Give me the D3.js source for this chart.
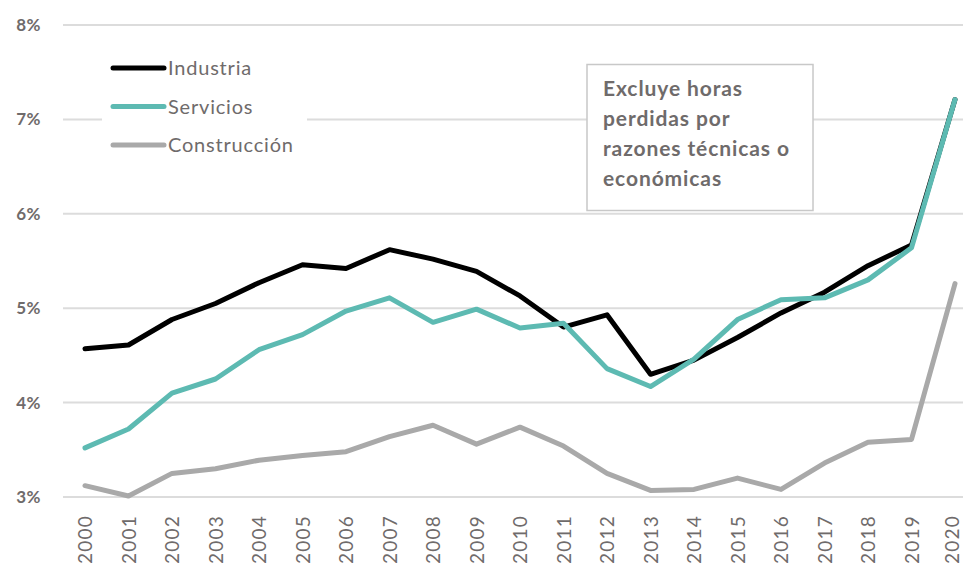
<!DOCTYPE html>
<html>
<head>
<meta charset="utf-8">
<script src="https://cdn.jsdelivr.net/npm/d3@7"></script>
<style>
  body { margin: 0; background: #fff; }
  svg { display: block; }
  text { font-family: Lato, "Open Sans", sans-serif; fill: #6f6b6b; }
</style>
</head>
<body>
<div id="chart"></div>
<script>
// data
var years = d3.range(2000, 2021);
var industria = [4.57, 4.61, 4.88, 5.05, 5.27, 5.46, 5.42, 5.62, 5.52, 5.39, 5.13, 4.80, 4.93, 4.30, 4.45, 4.69, 4.95, 5.17, 5.45, 5.67, 7.21];
var servicios = [3.52, 3.72, 4.10, 4.25, 4.56, 4.72, 4.97, 5.11, 4.85, 4.99, 4.79, 4.84, 4.36, 4.17, 4.46, 4.88, 5.09, 5.11, 5.30, 5.64, 7.21];
var construccion = [3.12, 3.01, 3.25, 3.30, 3.39, 3.44, 3.48, 3.64, 3.76, 3.56, 3.74, 3.54, 3.25, 3.07, 3.08, 3.20, 3.08, 3.36, 3.58, 3.61, 5.26];
var yTicks = [3, 4, 5, 6, 7, 8];
var noteLines = ["Excluye horas", "perdidas por", "razones técnicas o", "económicas"];

var series = [
  { name: "Industria", values: industria, color: "#000000" },
  { name: "Servicios", values: servicios, color: "#5dbab2" },
  { name: "Construcción", values: construccion, color: "#a9a9a9" }
];

var W = 963, H = 566;

var svg = d3.select("#chart")
  .append("svg")
    .attr("width", W)
    .attr("height", H);

var x = d3.scaleLinear().domain([2000, 2020]).range([85, 955]);
var y = d3.scaleLinear().domain([3, 8]).range([497, 25]);

// gridlines
svg.append("g")
  .selectAll("line")
  .data(yTicks)
  .enter()
  .append("line")
    .attr("x1", 63)
    .attr("x2", W)
    .attr("y1", function(d) { return y(d); })
    .attr("y2", function(d) { return y(d); })
    .attr("stroke", "#dcdcdc")
    .attr("stroke-width", 2);

// y labels
var yAxis = d3.axisLeft(y)
  .tickValues(yTicks)
  .tickSize(0)
  .tickPadding(0)
  .tickFormat(function(d) { return d + "%"; });

svg.append("g")
  .attr("transform", "translate(41,0)")
  .call(yAxis)
  .call(function(g) { g.select(".domain").remove(); })
  .selectAll("text")
    .style("font-size", "17px")
    .style("font-weight", "bold")
    .style("letter-spacing", "0.5px")
    .attr("fill", "#6f6b6b");

// x labels, rotated
var xAxis = d3.axisBottom(x)
  .tickValues(years)
  .tickSize(0)
  .tickFormat(d3.format("d"));

svg.append("g")
  .attr("transform", "translate(0,515)")
  .call(xAxis)
  .call(function(g) { g.select(".domain").remove(); })
  .selectAll("text")
    .attr("transform", "rotate(-90)")
    .attr("x", 0)
    .attr("y", function(d) { return d === 2020 ? -3 : 0; }) // keep last label inside the page
    .attr("dy", "0.35em")
    .attr("text-anchor", "end")
    .style("font-size", "19px")
    .style("letter-spacing", "1.2px")
    .attr("fill", "#6f6b6b");

// lines
var line = d3.line()
  .x(function(d, i) { return x(years[i]); })
  .y(function(d) { return y(d); });

// draw order: construccion, industria, servicios on top
svg.append("g")
  .selectAll("path")
  .data([series[2], series[0], series[1]])
  .enter()
  .append("path")
    .attr("d", function(d) { return line(d.values); })
    .attr("fill", "none")
    .attr("stroke", function(d) { return d.color; })
    .attr("stroke-width", 5)
    .attr("stroke-linejoin", "round")
    .attr("stroke-linecap", "round");

// legend
var legend = svg.append("g");
legend.append("rect")
  .attr("x", 102)
  .attr("y", 50)
  .attr("width", 205)
  .attr("height", 112)
  .attr("fill", "#fff");

var legendItem = legend.selectAll(".item")
  .data(series)
  .enter()
  .append("g")
    .attr("class", "item")
    .attr("transform", function(d, i) { return "translate(113," + (68 + i * 38.5) + ")"; });

legendItem.append("line")
  .attr("x1", 0)
  .attr("x2", 51)
  .attr("stroke", function(d) { return d.color; })
  .attr("stroke-width", 5)
  .attr("stroke-linecap", "round");

legendItem.append("text")
  .attr("x", 55)
  .attr("dy", "0.35em")
  .style("font-size", "20px")
  .style("letter-spacing", "0.8px")
  .text(function(d) { return d.name; });

// note box
var note = svg.append("g");
note.append("rect")
  .attr("x", 587)
  .attr("y", 64.5)
  .attr("width", 226)
  .attr("height", 146)
  .attr("fill", "#fff")
  .attr("stroke", "#c8c8c8")
  .attr("stroke-width", 1.5);

note.selectAll("text")
  .data(noteLines)
  .enter()
  .append("text")
    .attr("x", 603)
    .attr("y", function(d, i) { return 96 + i * 30; })
    .style("font-size", "21px")
    .style("font-weight", "bold")
    .style("letter-spacing", "0.9px")
    .text(function(d) { return d; });
</script>
</body>
</html>
